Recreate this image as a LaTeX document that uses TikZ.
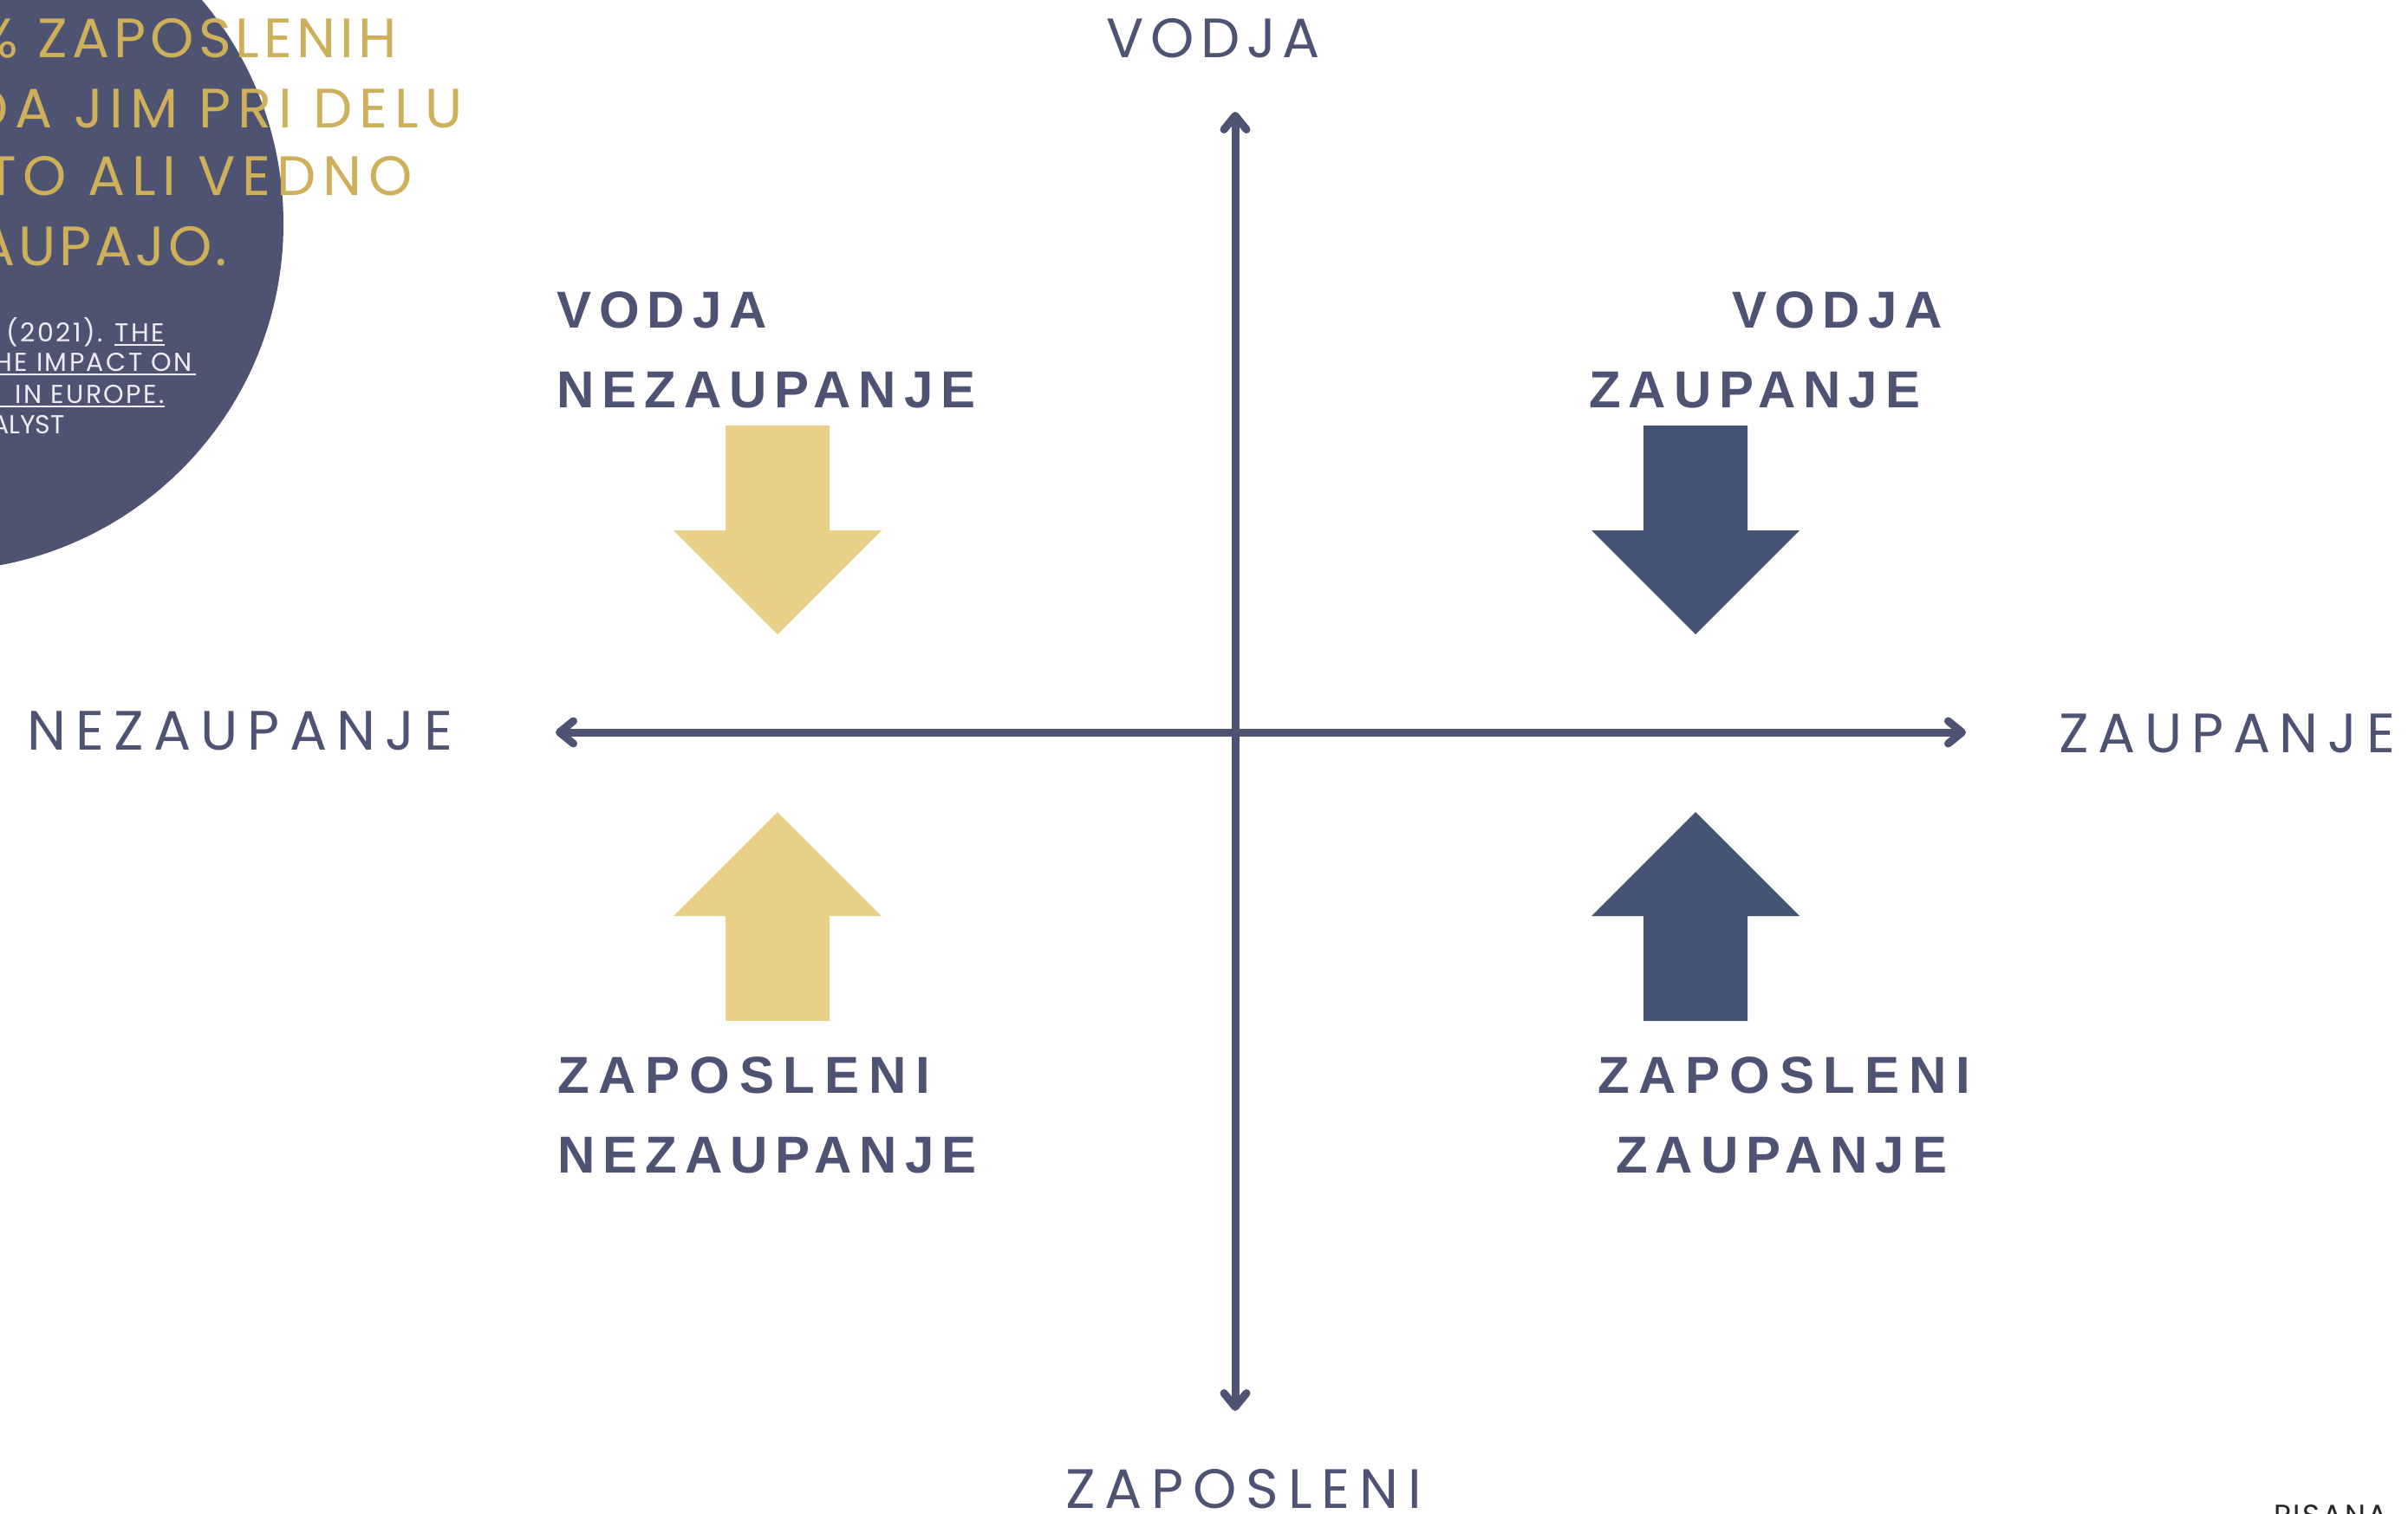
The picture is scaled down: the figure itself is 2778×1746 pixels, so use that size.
\documentclass[tikz,border=0pt]{standalone}
\usepackage{fontspec}
\setmainfont{Poppins}
\newfontfamily\axisfont{Poppins}
\newfontfamily\goldfont{Poppins}
\newfontfamily\citefont{Poppins}
\newfontfamily\boldfont{Liberation Sans}
\usetikzlibrary{arrows.meta}
\definecolor{navy}{HTML}{4E5273}
\definecolor{darkarrow}{HTML}{455475}
\definecolor{yel}{HTML}{E9D088}
\definecolor{gold}{HTML}{CFB05A}
\definecolor{circ}{HTML}{4F5372}
\definecolor{paletext}{HTML}{ECECF2}
\tikzset{
  axtip/.tip={Straight Barb[length=16pt,width=26pt,round]},
  axisline/.style={draw=navy, line width=9pt, line cap=round, axtip-axtip},
  boldlab/.style={text=navy, font=\boldfont\addfontfeatures{LetterSpace=#1}\bfseries\fontsize{60}{60}\selectfont, inner sep=0pt, anchor=base west},
  boldlab/.default=15,
  axislab/.style={text=navy, font=\axisfont\addfontfeatures{LetterSpace=#1}\fontsize{64}{64}\selectfont, inner sep=0pt, anchor=base west},
  goldlab/.style={text=gold, font=\goldfont\addfontfeatures{LetterSpace=#1}\fontsize{64}{64}\selectfont, inner sep=0pt, anchor=base east},
  citelab/.style={text=paletext, font=\citefont\addfontfeatures{LetterSpace=#1}\fontsize{30}{30}\selectfont, inner sep=0pt, anchor=base east},
  citelab/.default=8,
  ul/.style={draw=paletext, line width=1.6pt},
  pics/blockdown/.style={code={\fill[#1] (-60,0) -- (60,0) -- (60,121) -- (120,121) -- (0,241) -- (-120,121) -- (-60,121) -- cycle;}},
  pics/blockup/.style={code={\fill[#1] (-60,0) -- (60,0) -- (60,-121) -- (120,-121) -- (0,-241) -- (-120,-121) -- (-60,-121) -- cycle;}},
}
\begin{document}
\begin{tikzpicture}[x=1pt,y=-1pt]
\useasboundingbox (0,0) rectangle (2778,1746);
\fill[white] (0,0) rectangle (2778,1746);
% decorative circle
\fill[circ] (-74,258) circle[radius=401];
% gold quote
\node[goldlab=8] (g1) at (458,66) {\% ZAPOSLENIH};
\node[goldlab=12] (g2) at (534,147) {DA JIM PRI DELU};
\node[goldlab=12] (g3) at (476,225) {TO ALI VEDNO};
\node[goldlab=6] (g4) at (262,306) {AUPAJO.};
% citation
\node[citelab] (c1) at (190,394) {(2021). THE};
\node[citelab] (c2) at (222,428) {HE IMPACT ON};
\node[citelab] (c3) at (190,465) {IN EUROPE.};
\node[citelab=0] (c4) at (75,500) {ALYST};
\draw[ul] (132,398) -- (190,398);
\draw[ul] (0,432) -- (226,432);
\draw[ul] (0,469) -- (190,469);
% axes
\coordinate (top) at (1425,129);
\coordinate (bot) at (1425,1628);
\coordinate (left) at (641,845);
\coordinate (right) at (2268,845);
\draw[axisline] (left) -- (right);
\draw[axisline] (bot) -- (top);
% axis labels
\node[axislab=12] (lblTop) at (1276,66) {VODJA};
\node[axislab=17.5] (lblLeft) at (31,865) {NEZAUPANJE};
\node[axislab=16.7] (lblRight) at (2375,868) {ZAUPANJE};
\node[axislab=17] (lblBottom) at (1229,1740) {ZAPOSLENI};
% block arrows
\pic at (897,491) {blockdown=yel};
\pic at (897,1178) {blockup=yel};
\pic at (1956,491) {blockdown=darkarrow};
\pic at (1956,1178) {blockup=darkarrow};
% quadrant labels
\node[boldlab] (q1a) at (642,378) {VODJA};
\node[boldlab] (q1b) at (642,470) {NEZAUPANJE};
\node[boldlab] (q2a) at (1998,378) {VODJA};
\node[boldlab] (q2b) at (1833,470) {ZAUPANJE};
\node[boldlab=18] (q3a) at (643,1261) {ZAPOSLENI};
\node[boldlab] (q3b) at (643,1353) {NEZAUPANJE};
\node[boldlab=18] (q4a) at (1843,1261) {ZAPOSLENI};
\node[boldlab] (q4b) at (1864,1353) {ZAUPANJE};
% footer fragment
\node[anchor=base west, inner sep=0pt, text=black!85, font=\citefont\addfontfeatures{LetterSpace=8}\fontsize{34}{34}\selectfont] (foot) at (2623,1760) {PISANA};
\end{tikzpicture}
\end{document}
